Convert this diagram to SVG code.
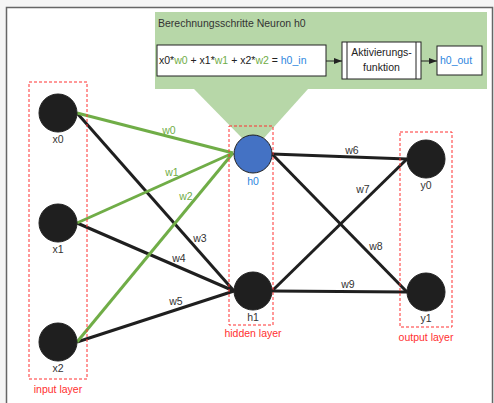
<svg xmlns="http://www.w3.org/2000/svg" width="494" height="403" viewBox="0 0 494 403">
<defs>
<style>
text{font-family:"Liberation Sans",Arial,sans-serif;}
.lbl{font-size:10.5px;fill:#333;text-anchor:middle;}
.wl{font-size:10.5px;fill:#333;text-anchor:middle;}
.wg{font-size:10.5px;fill:#70ad47;text-anchor:middle;}
.red{font-size:10.5px;fill:#ff3030;text-anchor:middle;}
.layer{fill:none;stroke:#ff3030;stroke-width:1;stroke-dasharray:3,2;}
.node{fill:#1f1f1f;stroke:#1f1f1f;stroke-width:1;}
.e{stroke:#1f1f1f;stroke-width:3;fill:none;}
.g{stroke:#70ad47;stroke-width:3;fill:none;}
.box{fill:#fff;stroke:#222;stroke-width:1;}
</style>
<marker id="ah" markerWidth="8" markerHeight="6" refX="8" refY="3" orient="auto" markerUnits="userSpaceOnUse">
<path d="M0,0 L8,3 L0,6 z" fill="#222"/>
</marker>
</defs>
<rect x="0" y="0" width="494" height="403" fill="#f5f5f5"/>
<rect x="6.5" y="7.5" width="486" height="400" fill="#fff" stroke="#666" stroke-width="1.5"/>

<g id="panel">
<rect x="155" y="12" width="332" height="77" fill="#b7d7a8"/>
<polygon points="194,89 308,89 264,138 242,138" fill="#b7d7a8"/>
<text x="158" y="27" style="font-size:10.5px;fill:#333">Berechnungsschritte Neuron h0</text>
<rect class="box" x="157" y="45" width="169" height="31"/>
<text x="159" y="64" style="font-size:10.5px;fill:#222">x0*<tspan fill="#70ad47">w0</tspan> + x1*<tspan fill="#70ad47">w1</tspan> + x2*<tspan fill="#70ad47">w2</tspan> = <tspan fill="#2e86de">h0_in</tspan></text>
<rect class="box" x="342" y="42" width="79" height="37"/>
<line x1="347" y1="42" x2="347" y2="79" stroke="#222"/>
<line x1="416" y1="42" x2="416" y2="79" stroke="#222"/>
<text x="381.5" y="56" style="font-size:10.5px;fill:#222;text-anchor:middle">Aktivierungs-</text>
<text x="381.5" y="71" style="font-size:10.5px;fill:#222;text-anchor:middle">funktion</text>
<rect class="box" x="437" y="46" width="45" height="29"/>
<text x="440" y="64" style="font-size:10.5px;fill:#2e86de">h0_out</text>
<line x1="326" y1="61" x2="342" y2="61" stroke="#222" marker-end="url(#ah)"/>
<line x1="421" y1="61" x2="437" y2="61" stroke="#222" marker-end="url(#ah)"/>
</g>

<g id="connectors">
<line class="e" x1="77" y1="113" x2="234" y2="291"/>
<line class="e" x1="77" y1="223" x2="234" y2="291"/>
<line class="e" x1="77" y1="342" x2="234" y2="291"/>
<line class="g" x1="77" y1="113" x2="233" y2="153"/>
<line class="g" x1="77" y1="223" x2="233" y2="153"/>
<line class="g" x1="77" y1="342" x2="233" y2="153"/>
<line class="e" x1="272" y1="154" x2="407" y2="159"/>
<line class="e" x1="272" y1="291" x2="407" y2="159"/>
<line class="e" x1="272" y1="154" x2="407" y2="292"/>
<line class="e" x1="272" y1="291" x2="407" y2="292"/>
<text class="wg" x="169" y="134">w0</text>
<text class="wg" x="172" y="176">w1</text>
<text class="wg" x="186" y="200">w2</text>
<text class="wl" x="200" y="242">w3</text>
<text class="wl" x="179" y="262">w4</text>
<text class="wl" x="176" y="305">w5</text>
<text class="wl" x="352" y="154">w6</text>
<text class="wl" x="363" y="193">w7</text>
<text class="wl" x="376" y="250">w8</text>
<text class="wl" x="348" y="288">w9</text>
</g>

<g id="input_layer">
<rect class="layer" x="29" y="82" width="58" height="297"/>
<text class="red" x="58" y="393">input  layer</text>
</g>
<g id="hidden_layer">
<rect class="layer" x="229" y="126" width="44" height="199"/>
<text class="red" x="253" y="337">hidden layer</text>
</g>
<g id="output_layer">
<rect class="layer" x="400" y="132" width="52" height="195"/>
<text class="red" x="426" y="341">output layer</text>
</g>

<g id="x0"><circle class="node" cx="58" cy="113" r="19"/><text class="lbl" x="58" y="143">x0</text></g>
<g id="x1"><circle class="node" cx="58" cy="223" r="19"/><text class="lbl" x="58" y="253">x1</text></g>
<g id="x2"><circle class="node" cx="58" cy="342" r="19"/><text class="lbl" x="58" y="372">x2</text></g>
<g id="h0"><circle cx="253" cy="154" r="19" fill="#4472c4" stroke="#222" stroke-width="1"/><text class="lbl" x="253" y="185" style="fill:#2e86de">h0</text></g>
<g id="h1"><circle class="node" cx="253" cy="291" r="19"/><text class="lbl" x="253" y="321">h1</text></g>
<g id="y0"><circle class="node" cx="426" cy="159" r="19"/><text class="lbl" x="426" y="189">y0</text></g>
<g id="y1"><circle class="node" cx="426" cy="292" r="19"/><text class="lbl" x="426" y="322">y1</text></g>
</svg>
